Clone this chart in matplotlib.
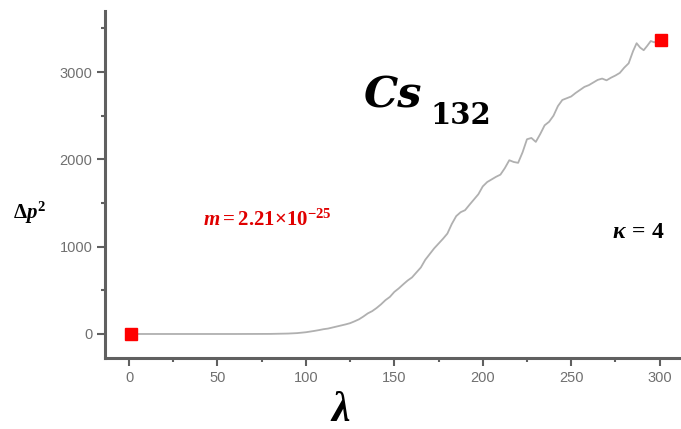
import matplotlib
matplotlib.use("Agg")
from matplotlib import pyplot as plt
from matplotlib.ticker import MultipleLocator

# Momentum spread vs lambda for Cs-132
lam = [1, 20, 40, 60, 80, 90, 95,
       100, 102.5, 105, 107.5, 110, 112.5, 115, 117.5, 120, 122.5, 125, 127.5,
       130, 132.5, 135, 137.5, 140, 142.5, 145, 147.5, 150, 152.5, 155, 157.5,
       160, 162.5, 165, 167.5, 170, 172.5, 175, 177.5, 180, 182.5, 185, 187.5,
       190, 192.5, 195, 197.5, 200, 202.5, 205, 207.5, 210, 212.5, 215, 217.5,
       220, 222.5, 225, 227.5, 230, 232.5, 235, 237.5, 240, 242.5, 245, 247.5,
       250, 252.5, 255, 257.5, 260, 262.5, 265, 267.5, 270, 272.5, 275, 277.5,
       280, 282.5, 285, 287, 289, 291, 293, 295, 297, 299, 301]
dp2 = [0, 0, 0, 0, 1, 5, 10,
       20, 28, 36, 45, 55, 62, 74, 86, 98, 110, 124, 145,
       168, 200, 236, 262, 298, 340, 388, 425, 482, 522, 568, 612,
       648, 705, 762, 850, 915, 980, 1035, 1090, 1150, 1260, 1350, 1395,
       1418, 1480, 1540, 1600, 1690, 1740, 1770, 1800, 1825, 1900, 1990, 1970,
       1960, 2080, 2230, 2245, 2200, 2290, 2390, 2430, 2500, 2610, 2680, 2700,
       2720, 2760, 2795, 2830, 2850, 2880, 2910, 2925, 2905, 2935, 2960, 2990,
       3050, 3100, 3240, 3330, 3280, 3250, 3300, 3355, 3340, 3365, 3370]

# first and last points marked
end_lam = [1, 301]
end_dp2 = [0, 3370]

W, H = 681, 429
plt.rcParams['mathtext.fontset'] = 'custom'
plt.rcParams['mathtext.rm'] = 'Liberation Serif:bold'
plt.rcParams['mathtext.it'] = 'Liberation Serif:italic:bold'
plt.rcParams['mathtext.bf'] = 'Liberation Serif:bold'

fig = plt.figure(figsize=(W / 100, H / 100), dpi=100)
ax = fig.add_axes([105 / W, (H - 358) / H, (W - 105) / W, (358 - 11) / H])

ax.plot(lam, dp2, color="#b0b0b0", lw=1.3, zorder=2)
ax.plot(end_lam, end_dp2, "s", color="#ff0000", ms=9, mec="#ff0000", zorder=3)

ax.set_xlim(-13.6, 312.1)
ax.set_ylim(-275, 3699)

ax.xaxis.set_major_locator(MultipleLocator(50))
ax.xaxis.set_minor_locator(MultipleLocator(25))
ax.yaxis.set_major_locator(MultipleLocator(1000))
ax.yaxis.set_minor_locator(MultipleLocator(500))

for side in ("top", "right"):
    ax.spines[side].set_visible(False)
for side in ("left", "bottom"):
    ax.spines[side].set_color("#606060")
    ax.spines[side].set_linewidth(2.2)

ax.tick_params(which="major", direction="out", length=6, width=1.5,
               color="#606060", labelcolor="#707070", labelsize=10.5, pad=3)
ax.tick_params(which="minor", direction="out", length=3, width=1.5,
               color="#606060")
for lab in ax.get_xticklabels() + ax.get_yticklabels():
    lab.set_family("Liberation Sans")


def px(x, y):
    return x / W, 1 - y / H


# annotations
fig.text(*px(364, 108), "Cs", family="DejaVu Serif", weight="bold",
         style="italic", fontsize=31, va="baseline", ha="left")
fig.text(*px(430, 124), "132", family="DejaVu Serif", weight="bold",
         fontsize=21, va="baseline", ha="left")
fig.text(*px(13, 219), r"$\Delta p^2$", fontsize=15, va="baseline", ha="left")
fig.text(*px(203, 226), r"$m = 2.21{\times}10^{-25}$", fontsize=15,
         color="#e00000", va="baseline", ha="left")
fig.text(*px(612, 238), r"$\kappa\,=\,4$", fontsize=17, va="baseline", ha="left")
fig.text(*px(330, 421), r"$\lambda$", fontsize=30, va="baseline", ha="left")

fig.savefig("out.png", dpi=100)
